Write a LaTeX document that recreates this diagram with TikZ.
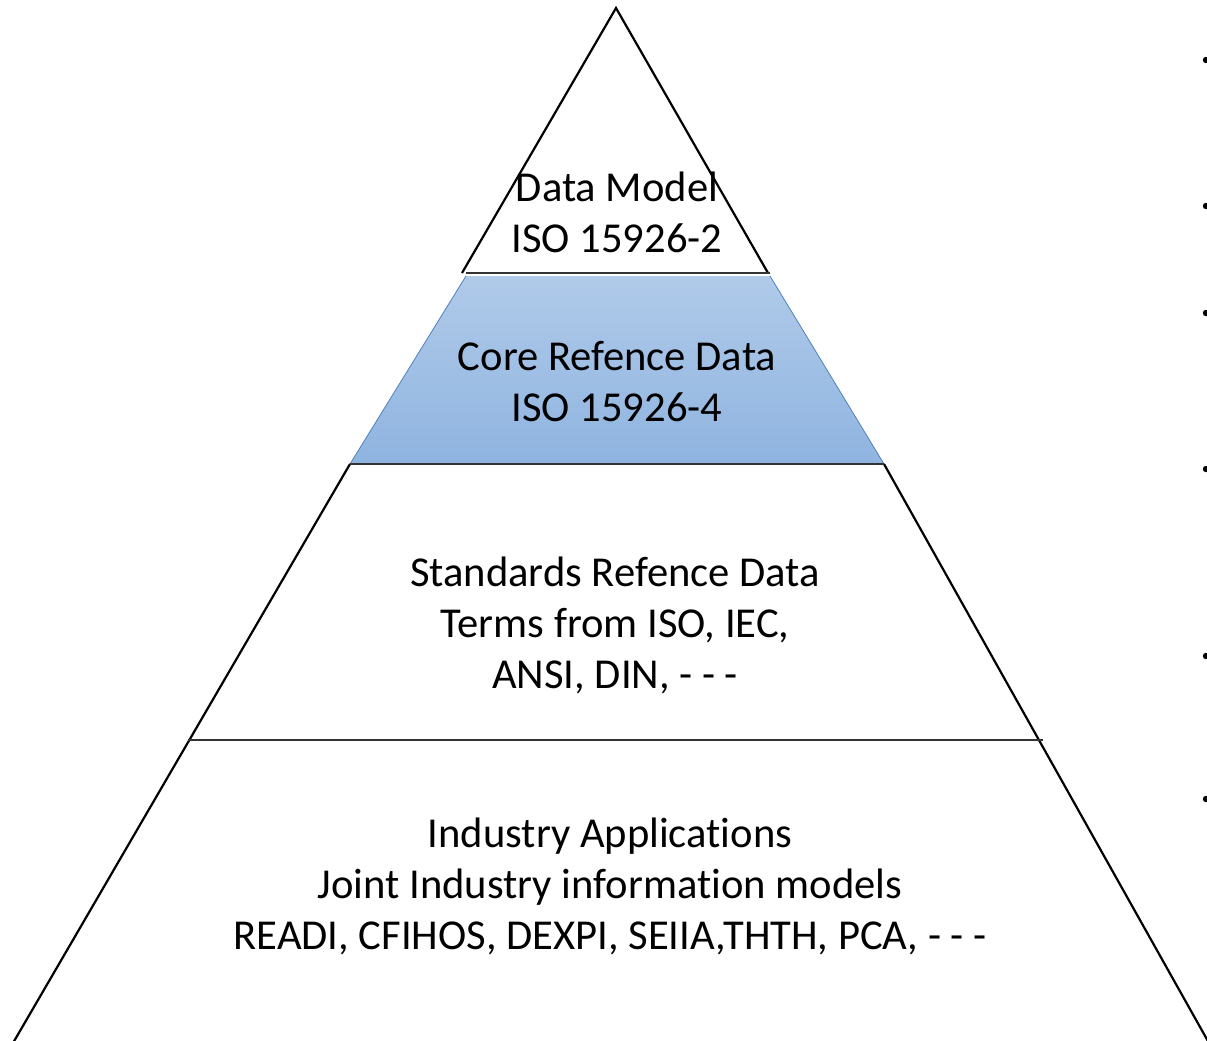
\documentclass[tikz,border=0pt]{standalone}
\usepackage{fontspec}
\setmainfont{Carlito}[RawFeature=-liga]
\definecolor{bluetop}{RGB}{176,202,233}
\definecolor{bluebot}{RGB}{143,180,224}
\definecolor{blueedge}{RGB}{79,129,189}
\begin{document}
\begin{tikzpicture}[x=1pt,y=-1pt,
  edge/.style={line width=2.2pt,black},
  sep/.style={line width=1.4pt,black!80},
  lbl/.style={align=center,inner sep=0pt,font=\fontsize{42.6}{51}\selectfont},
  bul/.style={fill=black,draw=none}]
\useasboundingbox (0,0) rectangle (1207,1041);
\begin{scope}
\clip (0,0) rectangle (1207,1041);
% blue layer
\shade[top color=bluetop,bottom color=bluebot]
  (466,276) -- (770,276) -- (884,464) -- (350,464) -- cycle;
\draw[line width=0.8pt,blueedge] (466,276) -- (350,464);
\draw[line width=0.8pt,blueedge] (770,276) -- (884,464);
% triangle edges
\draw[edge] (462,273) -- (616,8) -- (768,273);
\draw[edge] (350,464) -- (13,1043);
\draw[edge] (884,464) -- (1209,1043);
% separators
\draw[sep] (466,273) -- (770,273);
\draw[sep] (350,464) -- (884,464);
\draw[sep] (188,740) -- (1043,740);
% bullets
\foreach \yy in {60,206,313,469,656,799}
  \fill[bul] (1206,\yy) circle (3.2);
\end{scope}
\node[lbl] (dm) at (617,212) {Data Model\\ISO 15926-2};
\node[lbl] (core) at (617,382) {Core Refence Data\\ISO 15926-4};
\node[lbl] (std) at (615,625) {Standards Refence Data\\Terms from ISO, IEC,\\ANSI, DIN, - - -};
\node[lbl] (ind) at (610,886) {Industry Applications\\Joint Industry information models\\READI, CFIHOS, DEXPI, SEIIA,THTH, PCA, - - -};
\end{tikzpicture}
\end{document}
